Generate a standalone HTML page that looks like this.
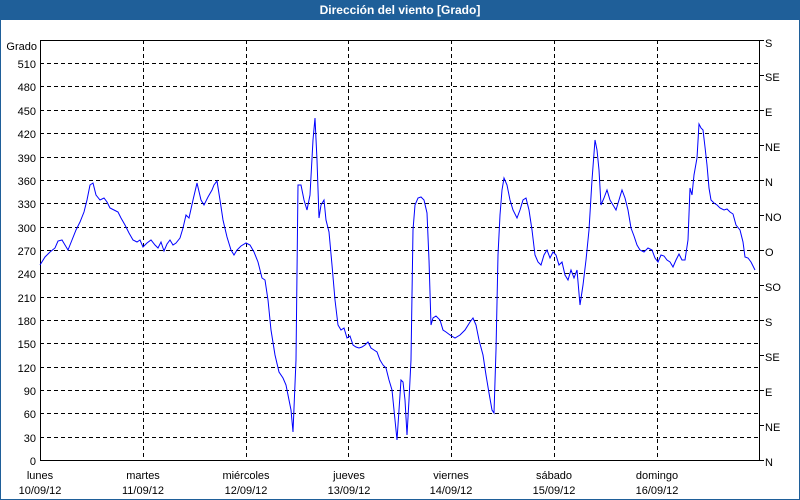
<!DOCTYPE html>
<html><head><meta charset="utf-8"><style>
html,body{margin:0;padding:0;background:#fff}
svg{display:block}
text{font-family:"Liberation Sans","DejaVu Sans",sans-serif;font-size:11px;fill:#000}
</style></head><body>
<svg width="800" height="500" xmlns="http://www.w3.org/2000/svg">
<rect x="0" y="0" width="800" height="500" fill="#fff"/>
<rect x="0.5" y="0.5" width="799" height="499" fill="none" stroke="#1f5f99"/>
<rect x="0" y="0" width="800" height="20" fill="#1f5f99"/>
<text x="400" y="14" text-anchor="middle" style="fill:#fff;font-weight:bold;font-size:12px">Dirección del viento [Grado]</text>
<g stroke="#000" stroke-dasharray="4,3" stroke-width="1">
<path d="M40 63.5H760M40 86.5H760M40 110.5H760M40 133.5H760M40 157.5H760M40 180.5H760M40 203.5H760M40 227.5H760M40 250.5H760M40 273.5H760M40 297.5H760M40 320.5H760M40 343.5H760M40 367.5H760M40 390.5H760M40 413.5H760M40 437.5H760"/>
<path d="M143.5 40V460M246.5 40V460M348.5 40V460M451.5 40V460M554.5 40V460M657.5 40V460"/>
</g>
<rect x="40.5" y="40.5" width="719" height="420" fill="none" stroke="#000"/>
<g text-anchor="end">
<text x="37" y="50">Grado</text>
<text x="36" y="68">510</text><text x="36" y="91">480</text><text x="36" y="115">450</text><text x="36" y="138">420</text><text x="36" y="162">390</text><text x="36" y="185">360</text><text x="36" y="208">330</text><text x="36" y="232">300</text><text x="36" y="255">270</text><text x="36" y="278">240</text><text x="36" y="302">210</text><text x="36" y="325">180</text><text x="36" y="348">150</text><text x="36" y="372">120</text><text x="36" y="395">90</text><text x="36" y="418">60</text><text x="36" y="442">30</text><text x="36" y="465">0</text>
</g>
<g stroke="#000"><path d="M760 40.5h4M760 75.5h4M760 110.5h4M760 145.5h4M760 180.5h4M760 215.5h4M760 250.5h4M760 285.5h4M760 320.5h4M760 355.5h4M760 390.5h4M760 425.5h4M760 460.5h4"/></g>
<g>
<text x="765" y="47">S</text><text x="765" y="81">SE</text><text x="765" y="116">E</text><text x="765" y="151">NE</text><text x="765" y="186">N</text><text x="765" y="221">NO</text><text x="765" y="256">O</text><text x="765" y="291">SO</text><text x="765" y="326">S</text><text x="765" y="361">SE</text><text x="765" y="396">E</text><text x="765" y="431">NE</text><text x="765" y="466">N</text>
</g>
<g text-anchor="middle">
<text x="40" y="479">lunes</text><text x="40" y="494">10/09/12</text>
<text x="143" y="479">martes</text><text x="143" y="494">11/09/12</text>
<text x="246" y="479">miércoles</text><text x="246" y="494">12/09/12</text>
<text x="349" y="479">jueves</text><text x="349" y="494">13/09/12</text>
<text x="451" y="479">viernes</text><text x="451" y="494">14/09/12</text>
<text x="554" y="479">sábado</text><text x="554" y="494">15/09/12</text>
<text x="657" y="479">domingo</text><text x="657" y="494">16/09/12</text>
</g>
<polyline fill="none" stroke="#0000ff" stroke-width="1" points="40,265 45,257 50,252 55,248 58,241 62,240 65,245 68,250 72,240 76,230 80,222 84,212 87,200 90,185 93,183 96,195 100,200 104,198 107,202 110,208 114,210 118,212 121,218 125,225 129,233 133,240 137,242 140,240 143,247 147,243 151,240 155,245 158,248 161,242 164,251 167,244 170,240 173,245 176,243 180,238 183,228 186,215 189,218 193,200 197,183 201,200 204,205 208,197 212,190 214,185 217,181 220,200 223,220 227,237 231,250 234,255 237,250 241,246 246,243 250,245 254,252 258,262 262,278 265,280 268,300 271,330 275,355 279,372 283,378 286,385 289,400 291,410 293,432 296,360 298,185 301,185 304,200 307,210 310,195 313,140 315,118 317,160 319,218 321,205 324,200 326,220 329,232 332,265 335,300 338,325 341,330 344,328 347,338 350,336 353,345 356,347 359,348 362,347 365,345 368,342 371,348 374,350 377,352 380,360 383,365 386,368 389,380 392,390 395,420 397,440 399,410 401,380 403,382 405,400 407,435 409,400 411,360 413,230 415,205 418,198 421,197 424,200 427,213 429,260 431,325 433,318 436,316 440,320 443,330 446,332 450,335 455,338 460,335 465,330 470,322 473,318 476,325 479,340 483,355 486,375 489,393 492,410 494,413 496,350 498,255 500,215 502,190 504,178 507,185 510,200 513,210 517,218 520,210 523,200 526,198 529,210 532,230 535,255 538,262 541,265 544,255 547,250 550,258 553,252 556,255 559,265 562,262 565,275 568,280 571,270 574,278 577,270 580,305 583,285 586,260 589,230 592,180 595,140 597,150 599,170 601,205 604,198 607,190 610,200 613,205 616,210 619,200 622,190 625,198 628,210 631,228 634,236 637,245 640,250 644,252 648,248 652,250 655,258 658,262 661,255 664,256 667,260 670,262 673,267 676,260 679,254 682,260 685,260 688,240 690,188 692,195 694,175 697,158 699,124 701,128 703,130 705,147 707,165 709,188 711,200 714,203 717,205 720,208 724,210 727,209 730,212 733,214 736,225 740,230 743,242 745,257 748,258 751,262 755,270"/>
</svg>
</body></html>
